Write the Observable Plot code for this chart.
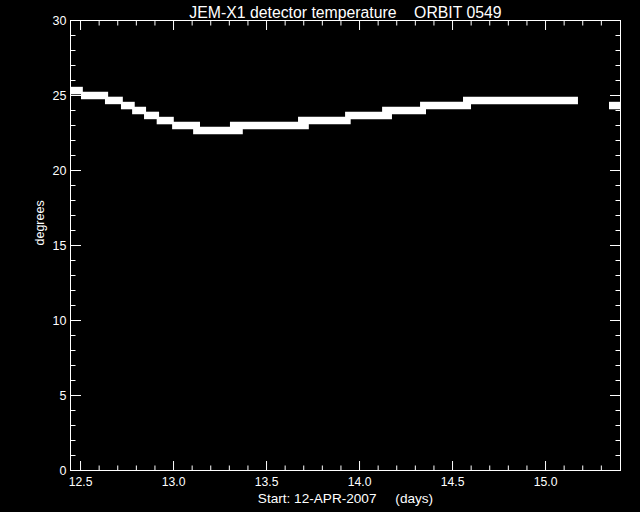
<!DOCTYPE html>
<html>
<head>
<meta charset="utf-8">
<script src="https://cdn.jsdelivr.net/npm/d3@7"></script>
<script src="https://cdn.jsdelivr.net/npm/@observablehq/plot@0.6"></script>
<style>
  html, body { margin: 0; padding: 0; background: #000; }
  svg text { white-space: pre; }
</style>
</head>
<body>
<div id="chart"></div>
<script>
const titleText = "JEM-X1 detector temperature    ORBIT 0549";
const xLabel = "Start: 12-APR-2007     (days)";
const yLabel = "degrees";

// temperature steps: start day, end day, temperature (deg)
const segStart = [12.446, 12.505, 12.634, 12.720, 12.780, 12.844, 12.912, 12.995, 13.108, 13.306, 13.672, 13.925, 14.124, 14.328, 14.559, 15.344];
const segEnd   = [12.515, 12.651, 12.730, 12.794, 12.855, 12.925, 13.004, 13.145, 13.375, 13.730, 13.955, 14.177, 14.360, 14.602, 15.177, 15.420];
const segTemp  = [25.33, 25.0, 24.67, 24.33, 24.0, 23.67, 23.33, 23.0, 22.67, 23.0, 23.33, 23.67, 24.0, 24.33, 24.67, 24.33];

const xDomain = [12.446, 15.403];
const yDomain = [0, 30];
const xMajor = [12.5, 13.0, 13.5, 14.0, 14.5, 15.0];
const xMinor = [12.6, 12.7, 12.8, 12.9, 13.1, 13.2, 13.3, 13.4, 13.6, 13.7, 13.8, 13.9, 14.1, 14.2, 14.3, 14.4, 14.6, 14.7, 14.8, 14.9, 15.1, 15.2, 15.3];
const yMajor = [0, 5, 10, 15, 20, 25, 30];
const yMinor = [1, 2, 3, 4, 6, 7, 8, 9, 11, 12, 13, 14, 16, 17, 18, 19, 21, 22, 23, 24, 26, 27, 28, 29];

const segs = segStart.map((s, i) => ({start: s, end: segEnd[i], temp: segTemp[i]}));

const font = "'Liberation Sans', Arial, sans-serif";

const chart = Plot.plot({
  width: 640,
  height: 512,
  marginTop: 20,
  marginBottom: 42,
  marginLeft: 70,
  marginRight: 20,
  style: {background: "black", color: "white", fontFamily: font, fontSize: "12px"},
  x: {domain: xDomain},
  y: {domain: yDomain},
  marks: [
    Plot.ruleY(segs, {x1: "start", x2: "end", y: "temp", stroke: "white", strokeWidth: 7.5, clip: true}),
    Plot.frame({stroke: "white"}),
    // bottom / top ticks
    Plot.axisX(xMajor, {anchor: "bottom", tickSize: -9, fill: "none", stroke: "white", label: null}),
    Plot.axisX(xMinor, {anchor: "bottom", tickSize: -4.5, fill: "none", stroke: "white", label: null}),
    Plot.axisX(xMajor, {anchor: "top", tickSize: -9, fill: "none", stroke: "white", label: null}),
    Plot.axisX(xMinor, {anchor: "top", tickSize: -4.5, fill: "none", stroke: "white", label: null}),
    Plot.axisX(xMajor, {anchor: "bottom", tickSize: 0, tickPadding: 6.5, tickFormat: d3.format(".1f"), fill: "white", label: null, fontSize: 12.2}),
    // left / right ticks
    Plot.axisY(yMajor, {anchor: "left", tickSize: -11, fill: "none", stroke: "white", label: null}),
    Plot.axisY(yMinor, {anchor: "left", tickSize: -5.5, fill: "none", stroke: "white", label: null}),
    Plot.axisY(yMajor, {anchor: "right", tickSize: -11, fill: "none", stroke: "white", label: null}),
    Plot.axisY(yMinor, {anchor: "right", tickSize: -5.5, fill: "none", stroke: "white", label: null}),
    Plot.axisY(yMajor, {anchor: "left", tickSize: 0, tickPadding: 4, fill: "white", label: null, fontSize: 12.5}),
    // titles
    Plot.text([titleText], {text: d => d, frameAnchor: "top", lineAnchor: "bottom", dy: -3, fill: "white", fontSize: 15.8}),
    Plot.text([xLabel], {text: d => d, frameAnchor: "bottom", lineAnchor: "bottom", dy: 32, fill: "white", fontSize: 13.6}),
    Plot.text([yLabel], {text: d => d, frameAnchor: "left", rotate: -90, dx: -31, fill: "white", fontSize: 12.5})
  ]
});
document.getElementById("chart").appendChild(chart);
</script>
</body>
</html>
